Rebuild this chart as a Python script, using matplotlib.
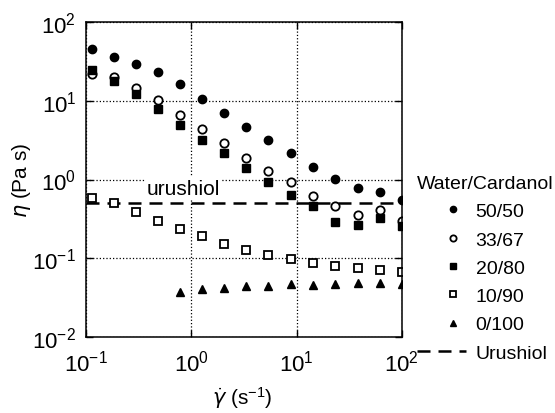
import matplotlib
matplotlib.use('Agg')
import matplotlib.pyplot as plt
from matplotlib.legend_handler import HandlerLine2D
import numpy as np

plt.rcParams['font.family'] = ['Liberation Sans', 'DejaVu Sans']
plt.rcParams['mathtext.default'] = 'regular'

# shear rate (1/s)
shear = [0.115, 0.185, 0.3, 0.48, 0.78, 1.27, 2.05, 3.3, 5.4, 8.8, 14.3, 23, 38, 62, 100]

# viscosity (Pa s) per water/cardanol ratio
eta_50_50 = [45, 35.6, 29, 23, 16.2, 10.7, 7.0, 4.6, 3.15, 2.15, 1.46, 1.01, 0.79, 0.69, 0.55]
eta_33_67 = [21.9, 19.9, 14.4, 10.2, 6.6, 4.4, 2.88, 1.88, 1.28, 0.92, 0.62, 0.465, 0.354, 0.414, 0.30]
eta_20_80 = [24.5, 18, 12.2, 7.85, 4.97, 3.18, 2.15, 1.39, 0.92, 0.64, 0.456, 0.29, 0.264, 0.327, 0.259]
eta_10_90 = [0.577, 0.503, 0.383, 0.30, 0.235, 0.19, 0.150, 0.127, 0.111, 0.098, 0.087, 0.080, 0.075, 0.0716, 0.0675]
shear_0_100 = shear[4:]
eta_0_100 = [0.0376, 0.040, 0.0415, 0.044, 0.0448, 0.047, 0.046, 0.047, 0.048, 0.048, 0.047]
urushiol = 0.51

fig = plt.figure(figsize=(5.55, 4.14), dpi=100)
ax = fig.add_axes([0.155, 0.184, 0.569, 0.760])

ms = 6
pts = []
pts += ax.plot(shear, eta_50_50, 'o', color='black', ms=ms, label='50/50')
pts += ax.plot(shear, eta_33_67, 'o', mfc='white', mec='black', mew=1.3, ms=ms, label='33/67')
pts += ax.plot(shear, eta_20_80, 's', color='black', ms=ms, label='20/80')
pts += ax.plot(shear, eta_10_90, 's', mfc='white', mec='black', mew=1.3, ms=ms, label='10/90')
pts += ax.plot(shear_0_100, eta_0_100, '^', color='black', ms=ms, label='0/100')
ax.axhline(urushiol, color='black', lw=1.8, dashes=(5.2, 3.2), label='Urushiol', zorder=1)

ax.text(0.38, 0.66, 'urushiol', fontsize=15, ha='left', va='baseline',
        bbox=dict(facecolor='white', edgecolor='none', pad=1))

ax.set_xscale('log')
ax.set_yscale('log')
ax.set_xlim(0.1, 100)
ax.set_ylim(0.01, 100)
ax.minorticks_off()
ax.grid(True, which='major', linestyle=':', color='black', lw=0.9)
ax.tick_params(which='major', direction='in', length=5, width=1, top=True, right=True,
               labelsize=16)
ax.tick_params(axis='x', pad=9)
ax.tick_params(axis='y', pad=7)
for s in ax.spines.values():
    s.set_linewidth(1.1)

ax.set_xlabel(r'$\dot{\mathit{\gamma}}$ (s$^{-1}$)', fontsize=15)
ax.set_ylabel(r'$\mathit{\eta}$ (Pa s)', fontsize=15)
ax.xaxis.set_label_coords(0.495, -0.15)
ax.yaxis.set_label_coords(-0.168, 0.5)

hmap = {p: HandlerLine2D(numpoints=1, xpad=1.2) for p in pts}
leg = ax.legend(loc='upper left', bbox_to_anchor=(0.752, 0.575), bbox_transform=fig.transFigure,
                frameon=False, title='Water/Cardanol', fontsize=14, title_fontsize=14,
                markerscale=0.75, handlelength=2.5, labelspacing=0.55, handletextpad=0.5,
                borderaxespad=0, borderpad=0, alignment='left', handler_map=hmap)

fig.savefig('out.png', dpi=100)
